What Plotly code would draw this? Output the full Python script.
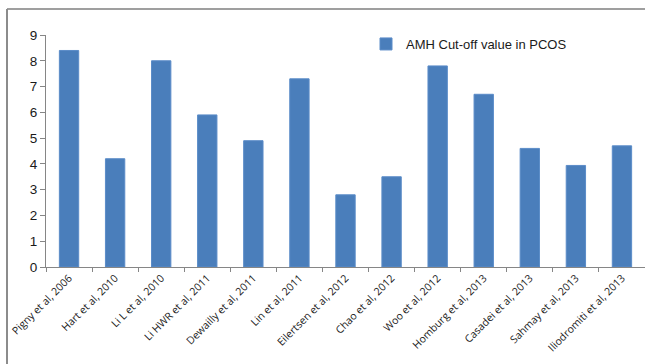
import plotly.graph_objects as go

studies = [
    "Pigny et al, 2006", "Hart et al, 2010", "Li L et al, 2010",
    "Li HWR et al, 2011", "Dewailly et al, 2011", "Lin et al, 2011",
    "Eilertsen et al, 2012", "Chao et al, 2012", "Woo et al, 2012",
    "Homburg et al, 2013", "Casadei et al, 2013", "Sahmay et al, 2013",
    "Iliodromiti et al, 2013",
]
cutoff = [8.4, 4.2, 8.0, 5.9, 4.9, 7.3, 2.8, 3.5, 7.8, 6.7, 4.6, 3.94, 4.7]
y_ticks = list(range(0, 10))

W, H = 645, 364
ml, mr, mt, mb = 46, 0, 35, 97
pw, ph = W - ml - mr, H - mt - mb

def px_x(p):
    return (p - ml) / pw

def px_y(p):
    return 1 - (p - mt) / ph

fig = go.Figure(
    go.Bar(
        x=studies, y=cutoff, name="AMH Cut-off value in PCOS",
        marker=dict(color="#4A7EBB", line=dict(color="#5B8CC8", width=1)),
    )
)

fig.update_layout(
    width=W, height=H,
    margin=dict(l=ml, r=mr, t=mt, b=mb),
    plot_bgcolor="white", paper_bgcolor="white",
    bargap=0.58,
    font=dict(family="Liberation Sans, Arial", color="#1a1a1a"),
    showlegend=True,
    legend=dict(
        x=px_x(366), y=px_y(44), xanchor="left", yanchor="middle",
        font=dict(size=13, family="Liberation Sans, Arial", color="#1a1a1a"),
        bgcolor="rgba(0,0,0,0)",
    ),
    xaxis=dict(
        type="category", tickangle=-45, tickson="boundaries",
        ticks="outside", ticklen=4, tickcolor="#868686",
        showline=True, linecolor="#868686", linewidth=1,
        showgrid=False,
        tickfont=dict(size=10.5, family="Open Sans, Noto Sans", color="#1a1a1a"),
    ),
    yaxis=dict(
        range=[0, 9], tickvals=y_ticks,
        ticks="outside", ticklen=5, tickcolor="#868686",
        showline=True, linecolor="#868686", linewidth=1,
        showgrid=False, zeroline=False,
        tickfont=dict(size=13.5, family="Liberation Sans, Arial", color="#1a1a1a"),
    ),
    shapes=[
        dict(type="line", xref="paper", yref="paper",
             x0=px_x(7), x1=px_x(700), y0=px_y(9), y1=px_y(9),
             line=dict(color="#7f7f7f", width=1.5)),
        dict(type="line", xref="paper", yref="paper",
             x0=px_x(7), x1=px_x(7), y0=px_y(9), y1=px_y(400),
             line=dict(color="#8c8c8c", width=2)),
    ],
)

fig.write_html("out.html")
